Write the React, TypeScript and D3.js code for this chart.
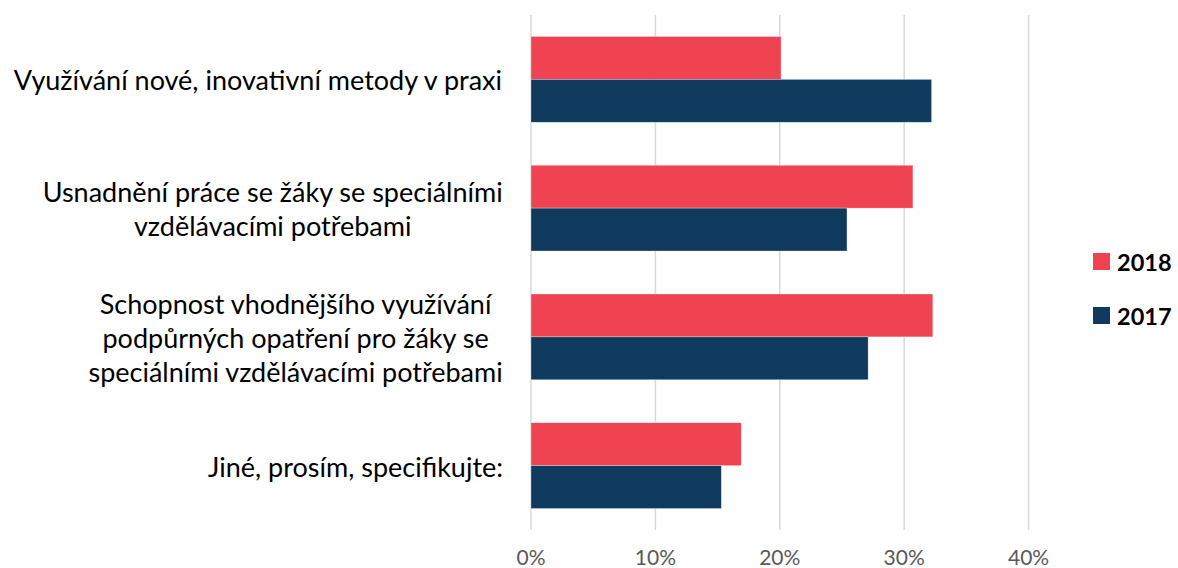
import React from "react";
import * as d3 from "d3";

const categories = [
  ["Využívání nové, inovativní metody v praxi"],
  ["Usnadnění práce se žáky se speciálními", "vzdělávacími potřebami"],
  ["Schopnost vhodnějšího využívání", "podpůrných opatření pro žáky se", "speciálními vzdělávacími potřebami"],
  ["Jiné, prosím, specifikujte:"],
];
const series = ["2018", "2017"];
const values2018 = [20.1, 30.7, 32.3, 16.9];
const values2017 = [32.2, 25.4, 27.1, 15.3];
const ticks = [0, 10, 20, 30, 40];

const colors = { "2018": "#EF4351", "2017": "#0F3A5D" };

const W = 1178;
const H = 568;
const margin = { top: 15, right: 150, bottom: 38, left: 531 };
const labelSize = 27;
const labelFont = `${labelSize}px Lato`;
const fontFamily = "Lato, 'Open Sans', sans-serif";

let ctx: CanvasRenderingContext2D | null = null;
function textWidth(s: string, font: string) {
  if (!ctx) ctx = document.createElement("canvas").getContext("2d");
  if (!ctx) return s.length * 12;
  ctx.font = font;
  return ctx.measureText(s).width;
}

export default function App() {
  const x = d3.scaleLinear().domain([0, 40]).range([margin.left, margin.left + 497.6]);
  const y = d3
    .scaleBand<number>()
    .domain(d3.range(categories.length))
    .range([margin.top, H - margin.bottom])
    .paddingInner(0.334)
    .paddingOuter(0.167);
  const sub = d3.scaleBand<string>().domain(series).range([0, y.bandwidth()]);
  const data = series.map((s) => (s === "2018" ? values2018 : values2017));
  const lineH = 34;
  const labelRight = 503;

  return (
    <div style={{ position: "fixed", left: 0, top: 0 }}>
      <svg width={W} height={H} style={{ display: "block", background: "#fff" }} fontFamily={fontFamily}>
        {/* gridlines */}
        <g>
          {ticks.map((t) => (
            <line key={t} x1={x(t)} x2={x(t)} y1={margin.top} y2={H - margin.bottom} stroke="#d9d9d9" strokeWidth={1.5} />
          ))}
        </g>
        {/* bars */}
        {series.map((s, si) => (
          <g key={s} fill={colors[s as "2018" | "2017"]}>
            {data[si].map((v, i) => (
              <rect
                key={i}
                x={x(0)}
                y={(y(i) ?? 0) + (sub(s) ?? 0)}
                width={x(v) - x(0)}
                height={sub.bandwidth()}
                stroke="#fff"
                strokeOpacity={0.5}
                strokeWidth={0.6}
              />
            ))}
          </g>
        ))}
        {/* tick labels */}
        <g fill="#595959" fontSize={21} textAnchor="middle">
          {ticks.map((t) => (
            <text key={t} x={x(t)} y={565}>
              {t}%
            </text>
          ))}
        </g>
        {/* category labels */}
        <g fill="#000" fontSize={labelSize} textAnchor="middle">
          {categories.map((lines, i) => {
            const maxW = d3.max(lines, (l) => textWidth(l, labelFont)) ?? 0;
            const cx = labelRight - maxW / 2;
            const cy = (y(i) ?? 0) + y.bandwidth() / 2;
            const start = cy - ((lines.length - 1) * lineH) / 2;
            return (
              <text key={i} x={cx} dominantBaseline="central">
                {lines.map((l, j) => (
                  <tspan key={j} x={cx} y={start + j * lineH}>
                    {l}
                  </tspan>
                ))}
              </text>
            );
          })}
        </g>
        {/* legend */}
        <g fontSize={23.5} fontWeight="bold">
          {series.map((s, i) => (
            <g key={s} transform={`translate(1093,${253 + i * 54})`}>
              <rect width={17} height={17} fill={colors[s as "2018" | "2017"]} />
              <text x={24} y={8.5} dominantBaseline="central" fill="#000">
                {s}
              </text>
            </g>
          ))}
        </g>
      </svg>
    </div>
  );
}
